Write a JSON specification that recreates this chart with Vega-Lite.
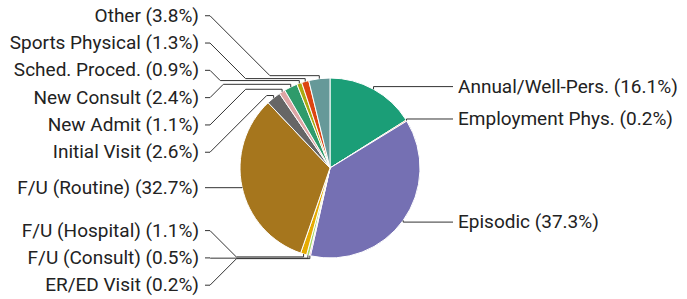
{
  "$schema": "https://vega.github.io/schema/vega-lite/v6.json",
  "width": 687,
  "height": 299,
  "autosize": {"type": "none"},
  "padding": 0,
  "background": "white",
  "view": {"stroke": null},
  "config": {"text": {"font": "Roboto"}},
  "data": {
    "values": [
      {"category": "Annual/Well-Pers.", "pct": 16.1, "order": 1},
      {"category": "Employment Phys.", "pct": 0.2, "order": 2},
      {"category": "Episodic", "pct": 37.3, "order": 3},
      {"category": "ER/ED Visit", "pct": 0.2, "order": 4},
      {"category": "F/U (Consult)", "pct": 0.5, "order": 5},
      {"category": "F/U (Hospital)", "pct": 1.1, "order": 6},
      {"category": "F/U (Routine)", "pct": 32.7, "order": 7},
      {"category": "Initial Visit", "pct": 2.6, "order": 8},
      {"category": "New Admit", "pct": 1.1, "order": 9},
      {"category": "New Consult", "pct": 2.4, "order": 10},
      {"category": "Sched. Proced.", "pct": 0.9, "order": 11},
      {"category": "Sports Physical", "pct": 1.3, "order": 12},
      {"category": "Other", "pct": 3.8, "order": 13}
    ]
  },
  "layer": [
    {
      "mark": {"type": "arc", "outerRadius": 90, "stroke": "white", "strokeWidth": 1},
      "encoding": {
        "theta": {"field": "pct", "type": "quantitative", "stack": true},
        "order": {"field": "order", "type": "quantitative"},
        "color": {
          "field": "category",
          "type": "nominal",
          "legend": null,
          "scale": {
            "domain": ["Annual/Well-Pers.", "Employment Phys.", "Episodic", "ER/ED Visit", "F/U (Consult)", "F/U (Hospital)", "F/U (Routine)", "Initial Visit", "New Admit", "New Consult", "Sched. Proced.", "Sports Physical", "Other"],
            "range": ["#1b9e77", "#d95f02", "#7570b3", "#e7298a", "#a6d96a", "#e6ab02", "#a6761d", "#666666", "#dea5a5", "#2e9b6b", "#aaaa11", "#dd4411", "#669999"]
          }
        },
        "x": {"datum": 0, "type": "quantitative", "scale": {"domain": [-330, 357], "nice": false, "zero": false}, "axis": null},
        "y": {"datum": 0, "type": "quantitative", "scale": {"domain": [-168, 131], "reverse": true, "nice": false, "zero": false}, "axis": null}
      }
    },
    {
      "transform": [
        {"joinaggregate": [{"op": "sum", "field": "pct", "as": "total"}]},
        {"window": [{"op": "sum", "field": "pct", "as": "cum"}], "sort": [{"field": "order", "order": "ascending"}], "frame": [null, 0]},
        {"calculate": "(datum.cum - datum.pct/2)/datum.total*2*PI", "as": "mid"},
        {"calculate": "90*sin(datum.mid)", "as": "ex"},
        {"calculate": "-90*cos(datum.mid)", "as": "ey"},
        {"calculate": "-93*cos(datum.mid)", "as": "yh"},
        {"calculate": "sin(datum.mid) >= 0 ? 'R' : 'L'", "as": "side"},
        {"window": [{"op": "row_number", "as": "rn"}], "sort": [{"field": "yh", "order": "ascending"}], "groupby": ["side"]},
        {"calculate": "datum.rn - 1", "as": "r"},
        {"calculate": "datum.yh - datum.r*27.3", "as": "o"},
        {"window": [{"op": "sum", "field": "o", "as": "P"}], "sort": [{"field": "r", "order": "ascending"}], "groupby": ["side"], "frame": [null, 0]},
        {"calculate": "datum.P - datum.o", "as": "Pm"},
        {"calculate": "{r: datum.r, P: datum.P, Pm: datum.Pm}", "as": "obj"},
        {"joinaggregate": [{"op": "values", "field": "obj", "as": "allJ"}], "groupby": ["side"]},
        {"calculate": "datum.allJ", "as": "allK"},
        {"flatten": ["allJ"], "as": ["J"]},
        {"flatten": ["allK"], "as": ["K"]},
        {"filter": "datum.J.r <= datum.r && datum.K.r >= datum.r"},
        {"calculate": "(datum.K.P - datum.J.Pm)/(datum.K.r - datum.J.r + 1)", "as": "A"},
        {"calculate": "datum.J.r", "as": "Jr"},
        {"aggregate": [{"op": "min", "field": "A", "as": "mn"}], "groupby": ["category", "pct", "side", "r", "ex", "ey", "yh", "Jr"]},
        {"aggregate": [{"op": "max", "field": "mn", "as": "c"}], "groupby": ["category", "pct", "side", "r", "ex", "ey", "yh"]},
        {"calculate": "clamp(datum.c + datum.r*27.3, -158, 122)", "as": "ly"},
        {"calculate": "datum.side == 'L' ? -120 : 118", "as": "xi"},
        {"calculate": "datum.side == 'L' ? -125 : 123", "as": "xo"},
        {"calculate": "datum.side == 'L' ? -131 : 128", "as": "tx"},
        {"calculate": "datum.side == 'L' ? datum.xi + abs(datum.ly - datum.yh) : datum.xi - abs(datum.ly - datum.yh)", "as": "xb"},
        {"calculate": "datum.category + ' (' + format(datum.pct, '.1f') + '%)'", "as": "label"}
      ],
      "layer": [
        {
          "mark": {"type": "rule", "color": "#333333", "strokeWidth": 1},
          "encoding": {
            "x": {"field": "xo", "type": "quantitative", "scale": {"domain": [-330, 357], "nice": false, "zero": false}, "axis": null},
            "x2": {"field": "xi"},
            "y": {"field": "ly", "type": "quantitative", "scale": {"domain": [-168, 131], "reverse": true, "nice": false, "zero": false}, "axis": null},
            "y2": {"field": "ly"}
          }
        },
        {
          "mark": {"type": "rule", "color": "#333333", "strokeWidth": 1},
          "encoding": {
            "x": {"field": "xi", "type": "quantitative", "scale": {"domain": [-330, 357], "nice": false, "zero": false}, "axis": null},
            "x2": {"field": "xb"},
            "y": {"field": "ly", "type": "quantitative", "scale": {"domain": [-168, 131], "reverse": true, "nice": false, "zero": false}, "axis": null},
            "y2": {"field": "yh"}
          }
        },
        {
          "mark": {"type": "rule", "color": "#333333", "strokeWidth": 1},
          "encoding": {
            "x": {"field": "xb", "type": "quantitative", "scale": {"domain": [-330, 357], "nice": false, "zero": false}, "axis": null},
            "x2": {"field": "ex"},
            "y": {"field": "yh", "type": "quantitative", "scale": {"domain": [-168, 131], "reverse": true, "nice": false, "zero": false}, "axis": null},
            "y2": {"field": "yh"}
          }
        },
        {
          "mark": {"type": "rule", "color": "#333333", "strokeWidth": 1},
          "encoding": {
            "x": {"field": "ex", "type": "quantitative", "scale": {"domain": [-330, 357], "nice": false, "zero": false}, "axis": null},
            "x2": {"field": "ex"},
            "y": {"field": "yh", "type": "quantitative", "scale": {"domain": [-168, 131], "reverse": true, "nice": false, "zero": false}, "axis": null},
            "y2": {"field": "ey"}
          }
        },
        {
          "transform": [{"filter": "datum.side == 'L'"}],
          "mark": {"type": "text", "align": "right", "baseline": "middle", "font": "Roboto", "fontSize": 19, "color": "#222222"},
          "encoding": {
            "x": {"field": "tx", "type": "quantitative", "scale": {"domain": [-330, 357], "nice": false, "zero": false}, "axis": null},
            "y": {"field": "ly", "type": "quantitative", "scale": {"domain": [-168, 131], "reverse": true, "nice": false, "zero": false}, "axis": null},
            "text": {"field": "label", "type": "nominal"}
          }
        },
        {
          "transform": [{"filter": "datum.side == 'R'"}],
          "mark": {"type": "text", "align": "left", "baseline": "middle", "font": "Roboto", "fontSize": 19, "color": "#222222"},
          "encoding": {
            "x": {"field": "tx", "type": "quantitative", "scale": {"domain": [-330, 357], "nice": false, "zero": false}, "axis": null},
            "y": {"field": "ly", "type": "quantitative", "scale": {"domain": [-168, 131], "reverse": true, "nice": false, "zero": false}, "axis": null},
            "text": {"field": "label", "type": "nominal"}
          }
        }
      ]
    }
  ]
}
